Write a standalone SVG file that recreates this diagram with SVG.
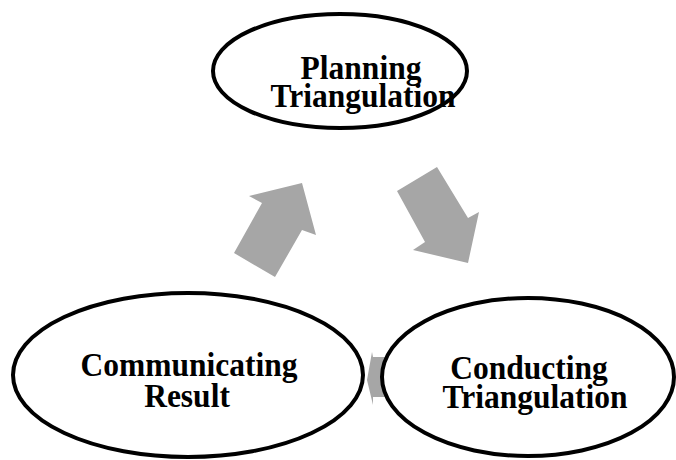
<svg xmlns="http://www.w3.org/2000/svg" width="676" height="460" viewBox="0 0 676 460">
  <style>
    .node { fill: #ffffff; stroke: #000000; stroke-width: 4; }
    .arrow { fill: #a6a6a6; stroke: none; }
    .label { font-family: "Liberation Serif", "Times New Roman", serif; font-weight: bold; font-size: 31.5px; fill: #000000; text-anchor: middle; }
  </style>
  <rect width="676" height="460" fill="#ffffff"/>

  <!-- block arrows linking the stages -->
  <g id="connectors">
    <polygon class="arrow" points="234,253 275,277 302,230 316,235 302,183 249,196 262,203"/>
    <polygon class="arrow" points="397,191 437,167 468,218 479,212 468,263 413,250 425,242"/>
    <polygon class="arrow" points="367,380 372,352 373,357 395,357 395,397 373,397 373,405"/>
  </g>

  <g id="planning">
    <ellipse class="node" cx="340" cy="71" rx="127" ry="57"/>
    <text class="label" transform="translate(361,79) scale(1,1.1)">Planning</text>
    <text class="label" transform="translate(363,107) scale(1,1.1)">Triangulation</text>
  </g>

  <g id="communicating">
    <ellipse class="node" cx="188" cy="375" rx="175" ry="82"/>
    <text class="label" transform="translate(189,376) scale(1,1.1)">Communicating</text>
    <text class="label" transform="translate(187,407) scale(1,1.1)">Result</text>
  </g>

  <g id="conducting">
    <ellipse class="node" cx="528" cy="377" rx="146" ry="79"/>
    <text class="label" transform="translate(529,379) scale(1,1.1)">Conducting</text>
    <text class="label" transform="translate(535,408) scale(1,1.1)">Triangulation</text>
  </g>
</svg>
